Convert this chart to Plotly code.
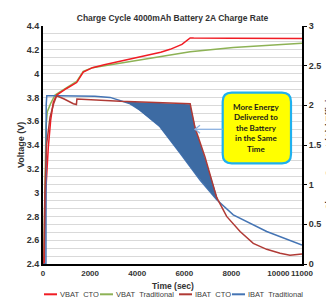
import numpy as np
import plotly.graph_objects as go

# ---------------- data ----------------
vbat_cto_t = [50, 85, 115, 225, 327, 438, 582, 1000, 1430, 1710, 2100, 2600, 3190, 3900, 4550, 5000, 5400, 5900, 6250, 6400, 8000, 11000]
vbat_cto_v = [2.40, 2.70, 3.00, 3.38, 3.61, 3.76, 3.82, 3.875, 3.925, 4.012, 4.05, 4.075, 4.10, 4.128, 4.156, 4.18, 4.204, 4.245, 4.30, 4.299, 4.297, 4.295]

vbat_trad_t = [30, 80, 127, 183, 327, 510, 1000, 1430, 1710, 2100, 3000, 4550, 6250, 8080, 11000]
vbat_trad_v = [2.40, 3.05, 3.55, 3.68, 3.75, 3.82, 3.885, 3.935, 4.018, 4.05, 4.079, 4.128, 4.184, 4.22, 4.255]

ibat_cto_t = [0, 40, 80, 150, 300, 450, 580, 900, 1290, 1420, 1440, 2000, 3270, 4500, 5500, 6250, 6455, 6880, 7375, 7800, 8370, 8930, 9500, 10070, 10490, 11000]
ibat_cto_a = [0, 0.1, 0.9, 1.5, 1.85, 2.02, 2.12, 2.08, 2.02, 2.01, 2.08, 2.07, 2.05, 2.04, 2.03, 2.02, 1.72, 1.35, 0.84, 0.60, 0.41, 0.26, 0.185, 0.135, 0.11, 0.126]

ibat_trad_t = [0, 125, 135, 160, 600, 1500, 2200, 2850, 3270, 3700, 4120, 4970, 5820, 6670, 7380, 8080, 9500, 11000]
ibat_trad_a = [0, 0, 2.0, 2.12, 2.12, 2.12, 2.115, 2.10, 2.06, 2.02, 1.94, 1.73, 1.40, 1.06, 0.81, 0.62, 0.41, 0.24]

x_ticks = [0, 2000, 4000, 6000, 8000, 10000, 11000]
x_tick_labels = ["0", "2000", "4000", "6000", "8000", "10000", "11000"]
v_ticks = [2.4, 2.6, 2.8, 3.0, 3.2, 3.4, 3.6, 3.8, 4.0, 4.2, 4.4]
v_tick_labels = ["2.4", "2.6", "2.8", "3", "3.2", "3.4", "3.6", "3.8", "4", "4.2", "4.4"]
a_ticks = [0, 0.5, 1, 1.5, 2, 2.5, 3]
a_tick_labels = ["0", "0.5", "1", "1.5", "2", "2.5", "3"]

series_names = ["VBAT\u00a0\u00a0CTO", "VBAT\u00a0\u00a0Traditional", "IBAT\u00a0\u00a0CTO", "IBAT\u00a0\u00a0Traditional"]
series_colors = ["#F01C24", "#8DB255", "#B03A35", "#4474B4"]
fill_color = "#3D6BA3"

note_lines = ["More Energy", "Delivered to", "the Battery", "in the Same", "Time"]

# ---------------- figure ----------------
FONT = "Liberation Sans, Arial, sans-serif"
fig = go.Figure()

fig.add_trace(go.Scatter(x=ibat_trad_t, y=ibat_trad_a, mode="lines", yaxis="y2",
                         line=dict(color=series_colors[3], width=1.5), name=series_names[3],
                         showlegend=False))

# energy-gain region between the two current curves
grid = np.linspace(3000, 7600, 921)
cto_i = np.interp(grid, ibat_cto_t, ibat_cto_a)
trad_i = np.interp(grid, ibat_trad_t, ibat_trad_a)
sel = cto_i > trad_i
gx = grid[sel]
poly_x = np.concatenate([gx, gx[::-1]])
poly_y = np.concatenate([cto_i[sel], trad_i[sel][::-1]])
fig.add_trace(go.Scatter(x=poly_x, y=poly_y, mode="lines", yaxis="y2", fill="toself",
                         fillcolor=fill_color, line=dict(width=0, color=fill_color),
                         showlegend=False, hoverinfo="skip"))

fig.add_trace(go.Scatter(x=ibat_cto_t, y=ibat_cto_a, mode="lines", yaxis="y2",
                         line=dict(color=series_colors[2], width=1.5), name=series_names[2],
                         showlegend=False))
fig.add_trace(go.Scatter(x=vbat_trad_t, y=vbat_trad_v, mode="lines", yaxis="y",
                         line=dict(color=series_colors[1], width=1.5), name=series_names[1],
                         showlegend=False))
fig.add_trace(go.Scatter(x=vbat_cto_t, y=vbat_cto_v, mode="lines", yaxis="y",
                         line=dict(color=series_colors[0], width=1.5), name=series_names[0],
                         showlegend=False))

tickfont = dict(family=FONT, size=9, color="#333333", weight="bold")
xtickfont = dict(family=FONT, size=8, color="#333333", weight="bold")

fig.update_layout(
    template="none",
    width=326, height=299, autosize=False,
    margin=dict(l=43, r=24, t=26, b=35, pad=0),
    paper_bgcolor="white", plot_bgcolor="white",
    showlegend=False,
    title=dict(text="<b>Charge Cycle 4000mAh Battery 2A Charge Rate</b>",
               font=dict(family=FONT, size=8.5, color="#333333"),
               x=(43 + 302) / 2 / 326, xanchor="center", y=1 - 17.7 / 299, yanchor="middle",
               xref="container", yref="container"),
    xaxis=dict(range=[0, 11000], tickvals=x_ticks, ticktext=x_tick_labels, automargin=False,
               tickangle=0, showgrid=False, zeroline=False,
               showline=True, linecolor="black", linewidth=2, ticks="",
               tickfont=xtickfont),
    yaxis=dict(range=[2.4, 4.4], tickvals=v_ticks, ticktext=v_tick_labels, automargin=False,
               showgrid=False, zeroline=False,
               showline=True, linecolor="black", linewidth=2, ticks="",
               tickfont=tickfont),
    yaxis2=dict(range=[0, 3], tickvals=a_ticks, ticktext=a_tick_labels, automargin=False,
                overlaying="y", side="right",
                showgrid=True, gridcolor="#D9D9D9", gridwidth=1, zeroline=False,
                showline=True, linecolor="black", linewidth=2, ticks="outside", ticklen=3,
                tickcolor="black", tickfont=tickfont,
                minor=dict(dtick=0.1, showgrid=True, gridcolor="#D9D9D9", gridwidth=1, ticks="")),
)

ann = []
# axis titles
ann.append(dict(text="<b>Voltage (V)</b>", xref="paper", yref="paper", x=(21 - 43) / 259, y=0.5,
                textangle=-90, showarrow=False, xanchor="center", yanchor="middle",
                font=dict(family=FONT, size=9, color="#333333")))
ann.append(dict(text="<b>Charge Current (A) / Efficiency</b>", xref="paper", yref="paper",
                x=(329 - 43) / 259, y=0.5, textangle=-90, showarrow=False,
                xanchor="center", yanchor="middle",
                font=dict(family=FONT, size=9, color="#333333")))
ann.append(dict(text="<b>Time (sec)</b>", xref="paper", yref="paper", x=0.5, y=(264 - 286) / 238,
                showarrow=False, xanchor="center", yanchor="middle",
                font=dict(family=FONT, size=8.5, color="#333333")))

shapes = []
# manual legend
leg_line_x = [44, 100, 179, 232]
leg_y = (264 - 294.3) / 238
for i, name in enumerate(series_names):
    x0 = (leg_line_x[i] - 43) / 259
    x1 = (leg_line_x[i] + 13 - 43) / 259
    shapes.append(dict(type="line", xref="paper", yref="paper", x0=x0, x1=x1, y0=leg_y, y1=leg_y,
                       line=dict(color=series_colors[i], width=2)))
    ann.append(dict(text=name, xref="paper", yref="paper", x=(leg_line_x[i] + 14 - 43) / 259,
                    y=leg_y, showarrow=False, xanchor="left", yanchor="middle",
                    font=dict(family=FONT, size=7.5, color="#404040")))

# callout box (rounded)
bx0, bx1 = (222.7 - 43) / 259, (291 - 43) / 259
by0, by1 = (264 - 163.3) / 238, (264 - 92.7) / 238
rx, ry = 9 / 259, 9 / 238
path = (f"M {bx0+rx},{by0} L {bx1-rx},{by0} Q {bx1},{by0} {bx1},{by0+ry} "
        f"L {bx1},{by1-ry} Q {bx1},{by1} {bx1-rx},{by1} L {bx0+rx},{by1} "
        f"Q {bx0},{by1} {bx0},{by1-ry} L {bx0},{by0+ry} Q {bx0},{by0} {bx0+rx},{by0} Z")
shapes.append(dict(type="path", path=path, xref="paper", yref="paper",
                   fillcolor="#FFFF00", line=dict(color="#1FB0EE", width=2.2), layer="above"))
ann.append(dict(text="<b>" + "<br>".join(note_lines) + "</b>", xref="paper", yref="paper",
                x=(bx0 + bx1) / 2, y=(by0 + by1) / 2, showarrow=False,
                xanchor="center", yanchor="middle", align="center",
                font=dict(family="Lato, sans-serif", size=8, color="#1A1A1A")))

# arrow from box to region
ay = (264 - 129.3) / 238
tipx = (195 - 43) / 259
shapes.append(dict(type="line", xref="paper", yref="paper", x0=bx0, x1=tipx, y0=ay, y1=ay,
                   line=dict(color="#8DB3E2", width=1.3), layer="above"))
armx = (200 - 43) / 259
shapes.append(dict(type="path", xref="paper", yref="paper",
                   path=f"M {armx},{ay + 4/238} L {tipx},{ay} L {armx},{ay - 4/238}",
                   line=dict(color="#8DB3E2", width=1.3), layer="above"))

fig.update_layout(annotations=ann, shapes=shapes)

fig.write_html("out.html", config={"displayModeBar": False},
               post_script="document.body.style.margin='0px';document.body.style.padding='0px';")
